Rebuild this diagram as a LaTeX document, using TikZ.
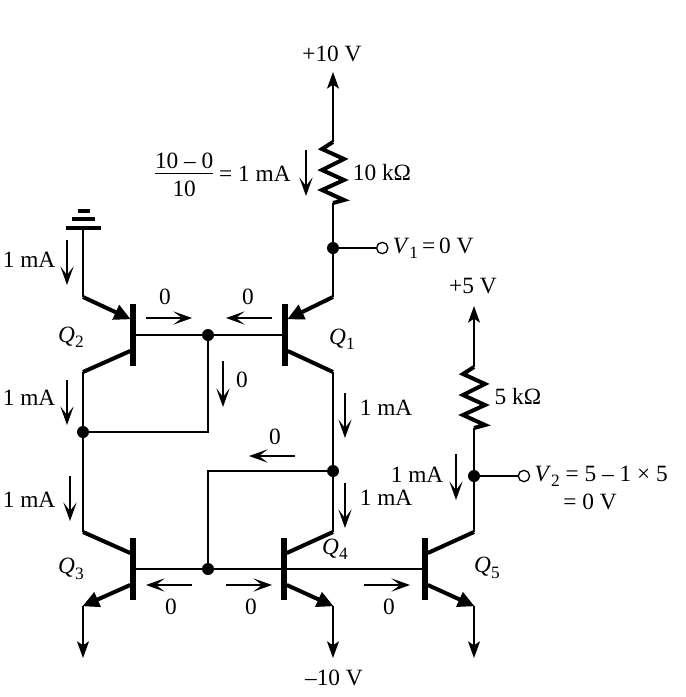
\documentclass[tikz,border=0pt]{standalone}
\usepackage{fontspec}
\setmainfont{Liberation Serif}
\usetikzlibrary{positioning, calc, arrows.meta}

\newcommand{\sublab}[2]{\textit{#1}\raisebox{-.5ex}{\fontsize{13}{13}\selectfont #2}}
\tikzset{
  wire/.style={line width=1pt},
  lead/.style={line width=3pt},
  emit/.style={lead, -{Triangle[length=12.5pt, width=11.5pt]}, shorten >=-0.5pt},
  cur/.style={line width=1.1pt, -{Stealth[length=14pt, width=10pt, inset=6.5pt]}},
  rail/.style={line width=1pt, -{Stealth[length=12.5pt, width=9pt, inset=3pt]}},
  res/.style={line width=3pt, line join=miter},
  bar/.style={fill=black, inner sep=0pt, minimum width=3.8pt, minimum height=46.5pt},
  dot/.style={circle, fill=black, inner sep=0pt, minimum size=9pt},
  ring/.style={circle, draw, fill=white, line width=1pt, inner sep=0pt, minimum size=8.5pt},
  lab/.style={inner sep=0pt}
}

\begin{document}
\begin{tikzpicture}[x=0.75pt, y=-0.75pt, font=\fontsize{17.5}{18}\selectfont, >=stealth]
  \useasboundingbox (0,0) rectangle (686,697);

  % transistors
  \node[bar] (q2) at (133,335) {};
  \node[bar] (q1) at (285,335) {};
  \node[bar] (q3) at (133,569) {};
  \node[bar] (q4) at (284,569) {};
  \node[bar] (q5) at (425,569) {};

  % junctions
  \node[dot] (jone) at (333,248) {};
  \node[ring, right=27.5pt of jone] (vone) {};
  \node[dot] (jbase) at (208,335) {};
  \node[dot] (jleft) at (83,432) {};
  \node[dot] (jright) at (333,471) {};
  \node[dot] (jlow) at (208,569) {};
  \node[dot] (jtwo) at (474,476) {};
  \node[ring, right=28pt of jtwo] (vtwo) {};

  % ends and elbows
  \coordinate (top) at (333,72);
  \coordinate (topfive) at (474,306);
  \coordinate (gnd) at (83,228);
  \coordinate (e2) at (83,297);
  \coordinate (c2) at (83,372);
  \coordinate (c3) at (83,532);
  \coordinate (e3) at (83,606);
  \coordinate (out3) at (83,658);
  \coordinate (e1) at (333,297);
  \coordinate (c1) at (333,372);
  \coordinate (c4) at (333,532);
  \coordinate (e4) at (333,606);
  \coordinate (out4) at (333,658);
  \coordinate (c5) at (474,532);
  \coordinate (e5) at (474,606);
  \coordinate (out5) at (474,658);
  \coordinate (rtop) at (333,142);
  \coordinate (rbot) at (333,203);
  \coordinate (rtopb) at (474,367);
  \coordinate (rbotb) at (474,428);

  % ground
  \draw[line width=3.6pt] (66,228) -- (101,228);
  \draw[line width=3.6pt] (72,219) -- (95,219);
  \draw[line width=3pt] (78,211) -- (90,211);

  % wires
  \draw[wire] (gnd) -- (e2);
  \draw[wire] (c2) -- (jleft) -- (c3);
  \draw[wire] (jleft) -| (jbase);
  \draw[wire] (q2) -- (jbase) -- (q1);
  \draw[wire] (rbot) -- (jone) -- (e1);
  \draw[wire] (jone) -- (vone);
  \draw[wire] (c1) -- (jright) -- (c4);
  \draw[wire] (jright) -| (jlow);
  \draw[wire] (q3) -- (jlow) -- (q4) -- (q5);
  \draw[wire] (rbotb) -- (jtwo) -- (c5);
  \draw[wire] (jtwo) -- (vtwo);

  % rails
  \draw[rail] (rtop) -- (top);
  \draw[rail] (rtopb) -- (topfive);
  \draw[rail] (e3) -- (out3);
  \draw[rail] (e4) -- (out4);
  \draw[rail] (e5) -- (out5);

  % collectors and emitters
  \draw[emit] (e2) -- ([yshift=12pt]q2.west);
  \draw[lead] (c2) -- ([yshift=-12pt]q2.west);
  \draw[emit] (e1) -- ([yshift=12pt]q1.east);
  \draw[lead] (c1) -- ([yshift=-12pt]q1.east);
  \draw[lead] (c3) -- ([yshift=12pt]q3.west);
  \draw[emit] ([yshift=-12pt]q3.west) -- (e3);
  \draw[lead] (c4) -- ([yshift=12pt]q4.east);
  \draw[emit] ([yshift=-12pt]q4.east) -- (e4);
  \draw[lead] (c5) -- ([yshift=12pt]q5.east);
  \draw[emit] ([yshift=-12pt]q5.east) -- (e5);

  % resistors
  \draw[res] (rtop) -- ++(-11,7) -- ++(22,10) -- ++(-22,11) -- ++(22,10) -- ++(-22,10) -- ++(22,10) -- (rbot);
  \draw[res] (rtopb) -- ++(-11,7) -- ++(22,10) -- ++(-22,11) -- ++(22,10) -- ++(-22,10) -- ++(22,10) -- (rbotb);

  % currents
  \draw[cur] (67,240) -- (67,285);
  \draw[cur] (67,380) -- (67,425);
  \draw[cur] (70,476) -- (70,521);
  \draw[cur] (306,150) -- (306,196);
  \draw[cur] (345,393) -- (345,438);
  \draw[cur] (345,483) -- (345,528);
  \draw[cur] (456,454) -- (456,500);
  \draw[cur] (223,361) -- (223,407);
  \draw[cur] (146,318) -- (192,318);
  \draw[cur] (272,318) -- (226,318);
  \draw[cur] (295,456) -- (249,456);
  \draw[cur] (192,585) -- (146,585);
  \draw[cur] (226,585) -- (272,585);
  \draw[cur] (364,585) -- (410,585);

  % labels
  \node[lab] (ltop) at (332,54) {+10 V};
  \node[lab] (lfive) at (473,286) {+5 V};
  \node[lab] (lneg) at (334,678) {–10 V};
  \node[lab] (lrone) at (382,173) {10 kΩ};
  \node[lab] (lrtwo) at (518,397) {5 kΩ};
  \node[lab, anchor=east] (lfrac) at (291,178) {\raisebox{-2pt}{\begin{tabular}{@{}c@{}}10 – 0\\[-2.5pt]\hline\rule{0pt}{17.5pt}10\end{tabular}} = 1 mA};
  \node[lab, right=3pt of vone] (lvone) {\sublab{V}{1}\kern3pt=\kern3pt0 V};
  \node[lab, right=3pt of vtwo] (lvtwo) {\sublab{V}{2} = 5 – 1 × 5};
  \node[lab] (lvzero) at (590,502) {= 0 V};
  \node[lab] (lqtwo) at (71,337) {\sublab{Q}{2}};
  \node[lab] (lqone) at (342,339) {\sublab{Q}{1}};
  \node[lab] (lqthree) at (71,569) {\sublab{Q}{3}};
  \node[lab] (lqfour) at (335,549) {\sublab{Q}{4}};
  \node[lab] (lqfive) at (487,568) {\sublab{Q}{5}};
  \node[lab] (la) at (29,260) {1 mA};
  \node[lab] (lb) at (29,398) {1 mA};
  \node[lab] (lc) at (29,500) {1 mA};
  \node[lab] (ld) at (386,408) {1 mA};
  \node[lab] (le) at (386,498) {1 mA};
  \node[lab] (lf) at (417,475) {1 mA};
  \node[lab] (za) at (165,297) {0};
  \node[lab] (zb) at (248,297) {0};
  \node[lab] (zc) at (242,380) {0};
  \node[lab] (zd) at (275,437) {0};
  \node[lab] (ze) at (171,607) {0};
  \node[lab] (zf) at (251,607) {0};
  \node[lab] (zg) at (389,607) {0};
\end{tikzpicture}
\end{document}
